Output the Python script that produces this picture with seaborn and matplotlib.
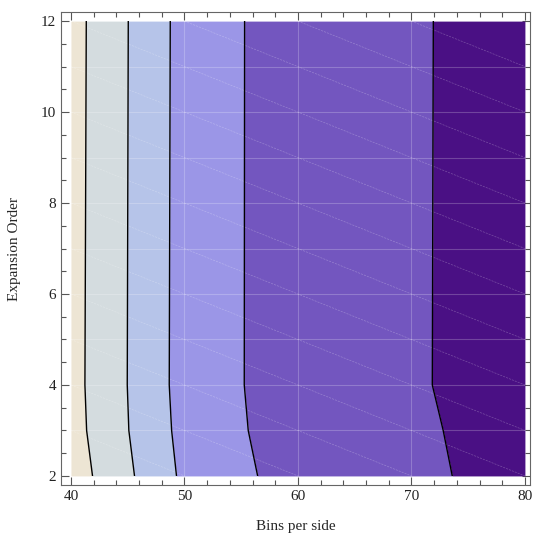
import numpy as np
import matplotlib
matplotlib.use("Agg")
import matplotlib.pyplot as plt
import seaborn as sns
from matplotlib.ticker import MultipleLocator

sns.set_style("ticks")
plt.rcParams['font.family'] = ['Liberation Serif', 'DejaVu Serif']

# contour boundaries (Bins per side) at each expansion order
orders = [2, 3, 4, 12]
bound_1 = [41.9, 41.38, 41.23, 41.35]
bound_2 = [45.6, 45.1, 44.96, 45.05]
bound_3 = [49.3, 48.87, 48.66, 48.75]
bound_4 = [56.45, 55.62, 55.27, 55.3]
bound_5 = [73.6, 72.8, 71.84, 71.93]
boundaries = [bound_1, bound_2, bound_3, bound_4, bound_5]

band_colors = ['#EDE5D4', '#D4DCDF', '#B6C4E9', '#9B96E7', '#7356BF', '#4A1084']

x_min, x_max = 40, 80
y_min, y_max = 2, 12

fig = plt.figure(figsize=(5.33, 5.36), dpi=100)
ax = fig.add_axes([0.1144, 0.0951, 0.8800, 0.8825])
ax.set_facecolor('white')

edges = [[x_min] * len(orders)] + boundaries + [[x_max] * len(orders)]
for i, col in enumerate(band_colors):
    ax.fill_betweenx(orders, edges[i], edges[i + 1], color=col, lw=0, zorder=1)

# faint mesh / grid lines
for gx in range(50, 80, 10):
    ax.plot([gx, gx], [y_min, y_max], color='white', alpha=0.22, lw=0.8, zorder=2)
for gy in range(3, 12):
    ax.plot([x_min, x_max], [gy, gy], color='white', alpha=0.22, lw=0.8, zorder=2)
xs = np.array([x_min, x_max])
for c in range(3, 17):
    ys = c - (xs - x_min) / 10.0
    ax.plot(xs, ys, color='white', alpha=0.25, lw=0.5, ls=(0, (3, 1.5)), zorder=2)

for b in boundaries:
    ax.plot(b, orders, color='black', lw=1.0, zorder=3)

ax.set_xlim(39.12, 80.45)
ax.set_ylim(1.8, 12.2)
# clip marks to the data region
rect = plt.Rectangle((x_min, y_min), x_max - x_min, y_max - y_min, transform=ax.transData)
for artist in ax.collections + ax.lines:
    artist.set_clip_path(rect)

ax.xaxis.set_major_locator(MultipleLocator(10))
ax.xaxis.set_minor_locator(MultipleLocator(2))
ax.yaxis.set_major_locator(MultipleLocator(2))
ax.yaxis.set_minor_locator(MultipleLocator(0.5))
ax.tick_params(which='both', direction='in', top=True, right=True, color='#555555',
               width=0.8, labelsize=11, labelcolor='#222222')
ax.tick_params(which='major', length=6)
ax.tick_params(which='minor', length=3.5)
for s in ax.spines.values():
    s.set_color('#666666')
    s.set_linewidth(0.8)

ax.set_xlabel('Bins per side', fontsize=11, labelpad=12)
ax.set_ylabel('Expansion Order', fontsize=11, labelpad=14)

fig.savefig('out.png', dpi=100)
